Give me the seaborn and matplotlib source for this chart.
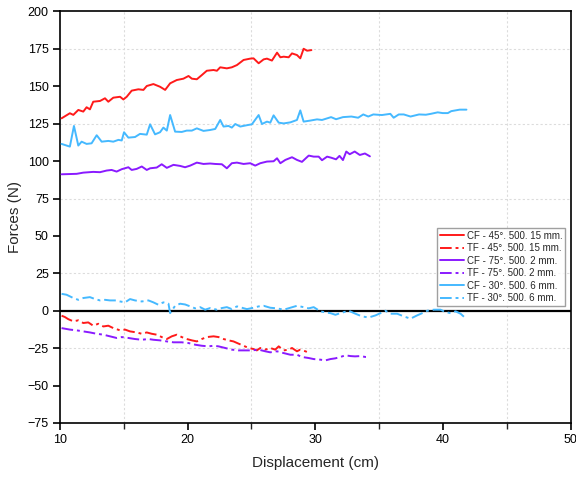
import matplotlib
matplotlib.use("Agg")
import matplotlib.pyplot as plt
import seaborn as sns
import pandas as pd
from matplotlib.ticker import MultipleLocator

# ---- data ----
cf45_x = [10.13, 10.78, 11.05, 11.44, 11.83, 12.09, 12.35, 12.61, 13.14, 13.53, 13.79, 14.18, 14.71, 14.97,
          15.23, 15.62, 16.14, 16.54, 16.80, 17.32, 17.84, 18.24, 18.63, 19.15, 19.67, 20.07, 20.33, 20.72,
          21.11, 21.50, 22.03, 22.29, 22.55, 23.07, 23.46, 23.86, 24.38, 24.90, 25.16, 25.56, 25.95, 26.21,
          26.60, 27.00, 27.26, 27.52, 27.91, 28.17, 28.56, 28.82, 29.08, 29.35, 29.69]
cf45_y = [128.6, 132.0, 130.9, 134.2, 133.1, 136.0, 134.6, 139.7, 140.2, 142.0, 139.7, 142.4, 143.0, 141.2,
          143.0, 147.1, 148.0, 147.6, 150.2, 151.5, 149.7, 147.6, 152.0, 154.2, 155.1, 156.9, 155.1, 154.7,
          157.5, 160.4, 160.9, 160.4, 162.7, 162.0, 162.7, 164.2, 167.6, 168.5, 168.7, 165.4, 168.0, 168.5,
          167.2, 172.5, 169.4, 169.8, 169.4, 172.0, 170.9, 168.7, 175.1, 173.8, 174.2]

tf45_x = [10.13, 10.39, 10.65, 11.05, 11.44, 11.83, 12.22, 12.61, 13.01, 13.40, 13.79, 14.18, 14.71, 15.10,
          15.49, 16.01, 16.41, 16.80, 17.19, 17.58, 17.97, 18.37, 18.76, 19.15, 19.54, 19.93, 20.33, 20.72,
          21.11, 21.50, 22.03, 22.42, 22.81, 23.20, 23.59, 23.99, 24.38, 24.77, 25.16, 25.42, 25.69, 26.08,
          26.47, 26.86, 27.13, 27.52, 27.91, 28.17, 28.56, 28.82, 29.22, 29.61]
tf45_y = [-3.3, -4.2, -5.6, -7.1, -6.4, -8.2, -7.8, -10.0, -8.7, -10.5, -10.0, -11.6, -13.1, -12.6,
          -13.8, -14.5, -15.4, -14.5, -15.4, -16.0, -17.6, -18.9, -17.1, -16.0, -17.6, -18.9, -19.8, -20.5,
          -18.9, -17.6, -17.1, -17.6, -18.9, -19.8, -20.5, -22.0, -23.4, -24.9, -25.6, -26.5, -24.9, -26.0,
          -24.9, -26.0, -23.8, -26.5, -26.0, -24.9, -27.1, -26.0, -27.1, -28.5]

cf75_x = [10.13, 11.31, 11.83, 12.61, 13.14, 13.66, 14.05, 14.44, 14.84, 15.36, 15.62, 16.01, 16.41, 16.80,
          17.06, 17.58, 17.97, 18.37, 18.89, 19.41, 19.80, 20.20, 20.72, 21.24, 21.76, 22.16, 22.68, 23.07,
          23.46, 23.86, 24.38, 24.90, 25.29, 25.69, 26.21, 26.73, 27.00, 27.26, 27.65, 28.17, 28.56, 28.95,
          29.48, 29.87, 30.26, 30.52, 30.92, 31.23, 31.62, 31.89, 32.16, 32.42, 32.69, 33.08, 33.48, 33.88,
          34.27]
cf75_y = [91.2, 91.5, 92.3, 92.8, 92.6, 93.7, 94.1, 93.0, 94.6, 95.9, 94.1, 94.8, 96.4, 94.1,
          95.2, 95.7, 97.9, 95.5, 97.5, 96.8, 95.9, 97.0, 99.0, 98.1, 98.4, 98.1, 97.9, 95.2,
          98.6, 99.0, 98.1, 98.6, 97.0, 98.6, 99.7, 99.9, 101.9, 98.6, 100.8, 102.6, 100.8, 99.5,
          103.7, 103.0, 103.0, 100.6, 103.0, 102.3, 101.2, 103.5, 100.7, 106.4, 104.6, 106.4, 104.1, 105.1,
          103.2]

tf75_x = [10.13, 10.78, 11.31, 11.83, 12.35, 12.88, 13.40, 13.92, 14.44, 14.84, 15.36, 15.88, 16.41, 16.93,
          17.32, 17.84, 18.37, 18.89, 19.54, 20.07, 20.59, 21.11, 21.63, 22.03, 22.42, 22.94, 23.46, 23.99,
          24.51, 25.03, 25.56, 26.08, 26.47, 26.99, 27.52, 28.04, 28.56, 28.95, 29.48, 29.87, 30.39, 30.78,
          31.18, 31.57, 31.96, 32.35, 32.75, 33.10, 33.53, 33.92, 34.20]
tf75_y = [-11.6, -12.6, -13.1, -13.8, -14.5, -15.4, -16.0, -17.1, -18.2, -17.6, -18.2, -18.9, -19.4, -18.9,
          -19.4, -19.8, -20.5, -21.1, -21.1, -21.6, -22.7, -23.4, -23.8, -23.4, -23.8, -24.9, -26.0, -26.5,
          -26.5, -26.5, -26.0, -27.1, -27.8, -27.1, -28.3, -29.4, -29.4, -30.9, -31.6, -32.3, -32.7, -33.2,
          -32.3, -31.8, -30.9, -29.8, -30.3, -30.5, -30.3, -30.9, -31.0]

cf30_x = [10.13, 10.78, 11.10, 11.44, 11.70, 12.09, 12.48, 12.88, 13.27, 13.79, 14.18, 14.58, 14.84, 15.02,
          15.36, 15.88, 16.27, 16.80, 17.06, 17.45, 17.84, 18.10, 18.37, 18.63, 19.02, 19.54, 19.93, 20.33,
          20.72, 21.24, 21.76, 22.16, 22.55, 22.81, 23.20, 23.46, 23.73, 24.12, 24.64, 25.03, 25.56, 25.82,
          26.21, 26.47, 26.73, 27.13, 27.52, 28.04, 28.56, 28.82, 29.08, 29.61, 30.13, 30.52, 31.23, 31.62,
          32.16, 32.82, 33.35, 33.75, 34.14, 34.54, 35.21, 35.87, 36.13, 36.53, 36.92, 37.45, 38.12, 38.65,
          39.04, 39.58, 39.97, 40.37, 40.64, 41.30, 41.83]
cf30_y = [111.5, 109.7, 123.5, 110.4, 113.0, 111.5, 111.9, 117.3, 113.0, 113.5, 113.0, 114.2, 113.8, 119.3,
          115.7, 116.1, 118.2, 117.7, 124.6, 117.9, 119.3, 122.4, 120.4, 130.8, 119.7, 119.5, 120.4, 120.4,
          121.9, 120.2, 120.8, 121.5, 127.5, 123.1, 123.5, 122.4, 124.8, 123.1, 124.0, 124.6, 130.8, 124.8,
          126.4, 125.7, 130.6, 125.7, 125.2, 125.9, 127.5, 133.9, 126.4, 127.1, 127.9, 127.5, 129.4, 128.0,
          129.4, 129.8, 129.0, 131.2, 129.8, 131.2, 130.8, 131.6, 129.0, 131.2, 131.2, 129.8, 131.2, 131.0,
          131.6, 132.6, 132.1, 132.1, 133.4, 134.4, 134.4]

tf30_x = [10.13, 10.52, 11.05, 11.44, 11.83, 12.35, 12.75, 13.14, 13.53, 13.92, 14.31, 14.71, 15.10, 15.49,
          15.88, 16.41, 16.93, 17.32, 17.71, 18.10, 18.50, 18.63, 19.02, 19.41, 19.80, 20.20, 20.59, 20.98,
          21.37, 21.76, 22.29, 22.68, 23.07, 23.46, 23.86, 24.25, 24.64, 25.16, 25.56, 25.95, 26.47, 26.99,
          27.52, 28.04, 28.56, 29.08, 29.48, 29.87, 30.39, 30.78, 31.18, 31.57, 31.96, 32.61, 33.14, 33.66,
          34.18, 34.71, 35.10, 35.49, 35.88, 36.41, 36.93, 37.45, 37.97, 38.37, 38.76, 39.28, 39.80, 40.20,
          40.59, 40.98, 41.37, 41.63]
tf30_y = [11.3, 10.7, 8.5, 7.3, 8.5, 9.1, 7.8, 6.9, 7.3, 6.9, 6.9, 6.2, 5.6, 7.8,
          6.9, 6.2, 6.9, 5.6, 4.0, 5.6, 4.7, -1.6, 3.3, 4.7, 4.2, 2.9, 1.6, 2.4,
          0.7, 1.8, 0.7, 1.8, 2.4, 1.1, 2.9, 2.0, 1.1, 2.0, 2.9, 3.3, 2.0, 1.6,
          0.7, 2.0, 3.3, 2.4, 1.6, 2.4, -0.4, -1.1, -1.6, -2.7, -1.6, 0.0, -2.0, -3.8,
          -4.5, -3.1, -1.6, 0.0, -2.0, -2.0, -3.8, -5.3, -3.1, -1.6, 0.0, 0.7, 0.7, -0.9,
          -1.6, -0.4, -2.0, -4.0]

labels = ["CF - 45°. 500. 15 mm.", "TF - 45°. 500. 15 mm.",
          "CF - 75°. 500. 2 mm.", "TF - 75°. 500. 2 mm.",
          "CF - 30°. 500. 6 mm.", "TF - 30°. 500. 6 mm."]

x_ticks = [10, 20, 30, 40, 50]
y_ticks = [200, 175, 150, 125, 100, 75, 50, 25, 0, -25, -50, -75]

series = [(cf45_x, cf45_y), (tf45_x, tf45_y), (cf75_x, cf75_y),
          (tf75_x, tf75_y), (cf30_x, cf30_y), (tf30_x, tf30_y)]
frames = []
for lab, (xs, ys) in zip(labels, series):
    frames.append(pd.DataFrame({"Displacement": xs, "Force": ys, "Series": lab}))
df = pd.concat(frames, ignore_index=True)

# ---- style ----
sns.set_style("ticks")
plt.rcParams["font.family"] = ["Liberation Sans", "DejaVu Sans"]

red, purple, blue = "#ff1a1a", "#8a1aff", "#45b9ff"
palette = {labels[0]: red, labels[1]: red, labels[2]: purple,
           labels[3]: purple, labels[4]: blue, labels[5]: blue}
dashes = {labels[0]: "", labels[2]: "", labels[4]: "",
          labels[1]: (6, 2, 1.5, 2), labels[3]: (6, 2, 1.5, 2), labels[5]: (6, 2, 1.5, 2)}

fig = plt.figure(figsize=(5.76, 4.79), dpi=100)
ax = fig.add_axes([0.104, 0.117, 0.887, 0.859])

# grid lines at intermediate positions
for gx in [15, 25, 35, 45]:
    ax.axvline(gx, color="#dcdcdc", lw=0.8, ls=(0, (2, 2)), zorder=0)
for gy in [175, 125, 75, 25, -25]:
    ax.axhline(gy, color="#dcdcdc", lw=0.8, ls=(0, (2, 2)), zorder=0)

ax.axhline(0, color="black", lw=1.6, zorder=1)

sns.lineplot(data=df, x="Displacement", y="Force", hue="Series", style="Series",
             hue_order=labels, style_order=labels, palette=palette, dashes=dashes,
             sort=False, estimator=None, lw=1.4, ax=ax, zorder=3)

ax.set_xlim(10, 50)
ax.set_ylim(-75, 200)
ax.set_xticks(x_ticks)
ax.xaxis.set_minor_locator(MultipleLocator(5))
ax.set_yticks(y_ticks)
ax.set_yticklabels([f"{v}".replace("-", "\u2212") for v in y_ticks])
ax.tick_params(axis="both", which="major", direction="out", length=5, width=1.2,
               labelsize=9, colors="black", pad=3)
ax.tick_params(axis="x", which="minor", direction="out", length=4, width=1.0)
for s in ax.spines.values():
    s.set_linewidth(1.2)
    s.set_color("black")

ax.set_xlabel("Displacement (cm)", fontsize=11, labelpad=7)
ax.set_ylabel("Forces (N)", fontsize=11, labelpad=4)

leg = ax.legend(loc="upper left", bbox_to_anchor=(0.738, 0.474), fontsize=7.0,
                frameon=True, fancybox=False, edgecolor="#888888",
                handlelength=2.5, handletextpad=0.25, borderpad=0.3,
                labelspacing=0.25, borderaxespad=0)
leg.get_frame().set_linewidth(1.0)

fig.savefig("out.png", dpi=100)
